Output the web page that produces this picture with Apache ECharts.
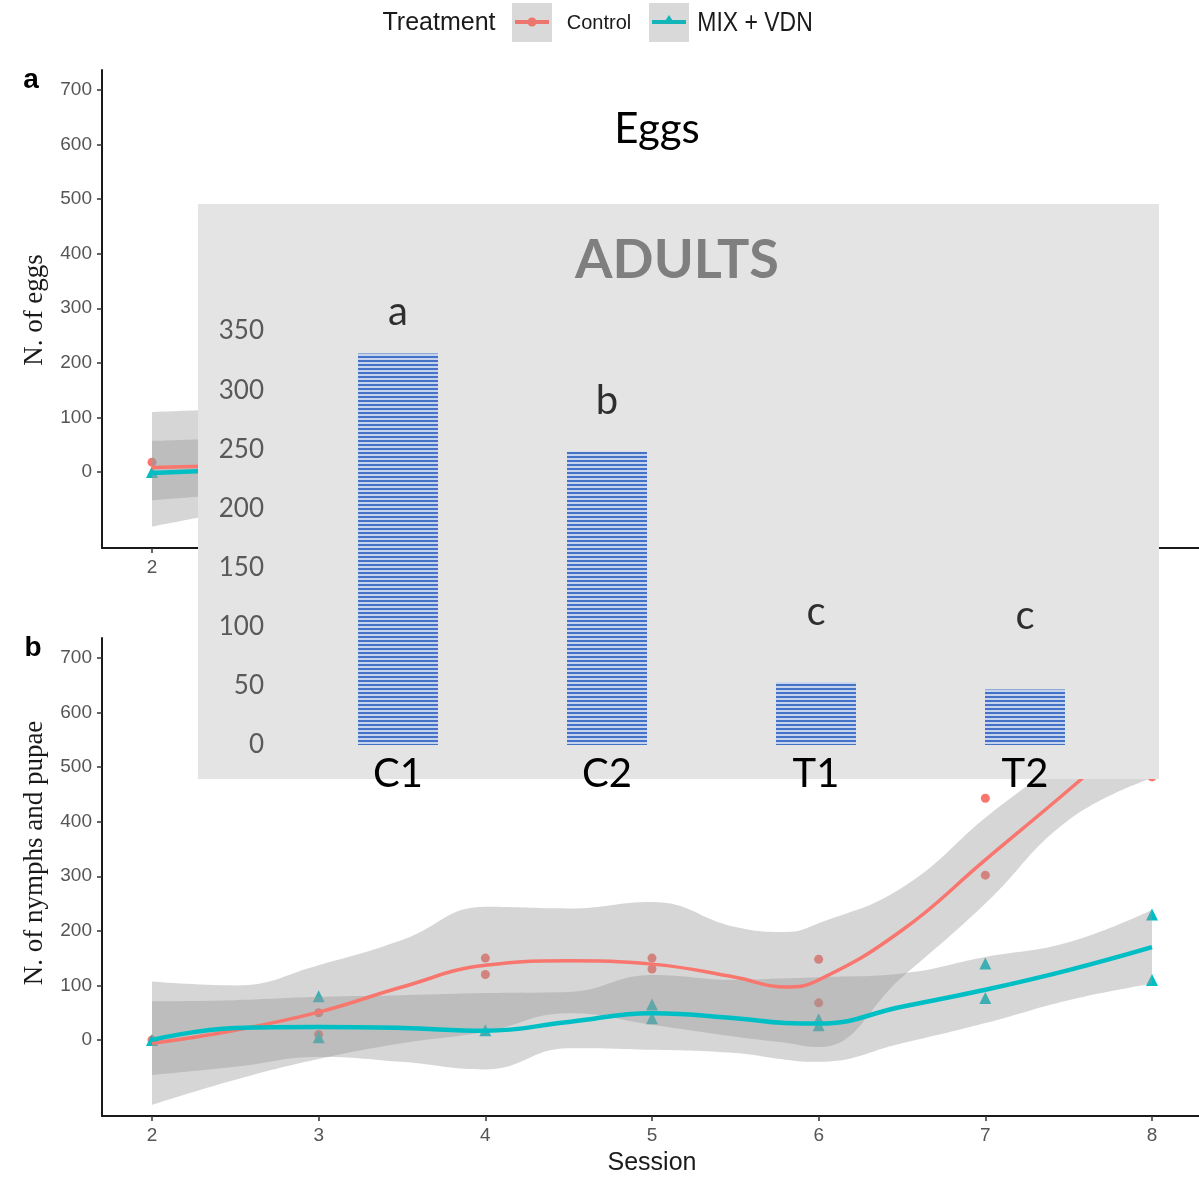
<!DOCTYPE html>
<html>
<head>
<meta charset="utf-8">
<script src="https://cdn.jsdelivr.net/npm/echarts@6/dist/echarts.min.js"></script>
<style>
  html, body { margin: 0; padding: 0; background: #ffffff; }
  #main { position: absolute; left: 0; top: 0; width: 1199px; height: 1178px; }
  #inset { position: absolute; left: 198px; top: 204px; width: 961px; height: 610px; }
</style>
</head>
<body>
<div id="main"></div>
<div id="inset"></div>
<script>
// ---------- axis ticks ----------
const sessionTicks = [2, 3, 4, 5, 6, 7, 8];
const countTicks = [0, 100, 200, 300, 400, 500, 600, 700];

// ---------- panel a: eggs (session 2 visible) ----------
const eggFitSessions = [2, 2.5];
const eggControlFit = [8, 12];
const eggControlLower = [-100, -70];
const eggControlUpper = [110, 116];
const eggMixFit = [-2, 4];
const eggMixLower = [-52, -40];
const eggMixUpper = [57, 62];
const eggControlPtSession = [2];
const eggControlPtValue = [18];
const eggMixPtSession = [2];
const eggMixPtValue = [0];

// ---------- panel b: nymphs and pupae ----------
const fitSessions = [2, 2.5, 3, 3.5, 4, 4.5, 5, 5.5, 5.8, 6, 6.5, 7, 7.5, 8];
const controlFit   = [-6, 18, 51, 97, 137, 145, 139, 115, 97, 110, 201, 330, 458, 590];
const controlLower = [-119, -73, -35, -6, 15, 49, 28, 6, -5, -13, 115, 250, 403, 480];
const controlUpper = [107, 100, 137, 183, 244, 241, 253, 207, 198, 214, 279, 407, 530, 700];
const mixFit   = [0, 22, 24, 22, 17, 33, 49, 40, 31, 30, 61, 92, 128, 170];
const mixLower = [-64, -49, -31, -40, -54, -15, -18, -24, -36, -40, -6, 31, 73, 103];
const mixUpper = [71, 73, 79, 82, 86, 88, 119, 110, 113, 115, 122, 152, 179, 238];

const controlPtSession = [2, 3, 3, 4, 4, 5, 5, 6, 6, 7, 7, 8];
const controlPtValue   = [0, 50, 10, 150, 120, 150, 130, 148, 68, 443, 302, 482];
const mixPtSession = [2, 3, 3, 4, 5, 5, 6, 6, 7, 7, 8, 8];
const mixPtValue   = [0, 80, 5, 18, 65, 40, 38, 27, 140, 77, 230, 110];

// ---------- inset: adults ----------
const adultGroups = ['C1', 'C2', 'T1', 'T2'];
const adultCounts = [331, 248, 53, 47];
const sigLetters = ['a', 'b', 'c', 'c'];
const sigLetterHeight = [366, 291, 112, 109];
const adultTicks = [0, 50, 100, 150, 200, 250, 300, 350];

// ---------- colours ----------
const RED = '#F8766D';
const TEAL = '#00BFC4';
const RIBBON = 'rgba(153,153,153,0.4)';
const Y_MIN = -139.3, Y_MAX = 736.6;
const X_MIN = 1.7, X_MAX = 8.282;
const SMOOTH = 0.45;

// rows are [count, session] so that the count column is the one that gets stacked
function rows(xs, ys) { return xs.map((x, i) => [ys[i], x]); }

function ribbon(g, xs, lo, hi, id) {
  const common = {
    type: 'line', xAxisIndex: g, yAxisIndex: g, stack: id, stackStrategy: 'all',
    encode: { x: 1, y: 0 },
    smooth: SMOOTH, symbol: 'none', silent: true,
    lineStyle: { opacity: 0 }
  };
  return [
    Object.assign({}, common, { data: rows(xs, lo) }),
    Object.assign({}, common, {
      data: rows(xs, hi.map((v, i) => v - lo[i])),
      areaStyle: { color: RIBBON, opacity: 1 }
    })
  ];
}

function fitLine(g, xs, ys, color, width) {
  return {
    type: 'line', xAxisIndex: g, yAxisIndex: g, data: rows(xs, ys),
    encode: { x: 1, y: 0 },
    smooth: SMOOTH, symbol: 'none', silent: true,
    lineStyle: { color: color, width: width }
  };
}

function points(g, xs, ys, symbol, size, color) {
  return {
    type: 'scatter', xAxisIndex: g, yAxisIndex: g, data: rows(xs, ys),
    encode: { x: 1, y: 0 },
    symbol: symbol, symbolSize: size, itemStyle: { color: color, opacity: 1 }, silent: true
  };
}

function sessionAxis(g) {
  return {
    type: 'value', gridIndex: g, min: X_MIN, max: X_MAX,
    axisLine: { show: true, onZero: false, lineStyle: { color: '#1a1a1a', width: 2 } },
    axisTick: { show: true, length: 5, customValues: sessionTicks, lineStyle: { color: '#333', width: 1.5 } },
    axisLabel: { customValues: sessionTicks, color: '#555', fontSize: 19, fontFamily: 'Liberation Sans', margin: 10 },
    splitLine: { show: false }
  };
}

function countAxis(g) {
  return {
    type: 'value', gridIndex: g, min: Y_MIN, max: Y_MAX,
    axisLine: { show: true, onZero: false, lineStyle: { color: '#1a1a1a', width: 2 } },
    axisTick: { show: true, length: 5, customValues: countTicks, lineStyle: { color: '#333', width: 1.5 } },
    axisLabel: { customValues: countTicks, color: '#555', fontSize: 19, fontFamily: 'Liberation Sans', margin: 10 },
    splitLine: { show: false }
  };
}

const main = echarts.init(document.getElementById('main'), null, { renderer: 'canvas' });

main.setOption({
  animation: false,
  backgroundColor: '#ffffff',
  grid: [
    { left: 102, top: 70, width: 1097, height: 478 },
    { left: 102, top: 638, width: 1097, height: 478 }
  ],
  xAxis: [sessionAxis(0), sessionAxis(1)],
  yAxis: [countAxis(0), countAxis(1)],
  series: [
    // panel a
    points(0, eggControlPtSession, eggControlPtValue, 'circle', 9, RED),
    points(0, eggMixPtSession, eggMixPtValue, 'triangle', 12, TEAL),
    ...ribbon(0, eggFitSessions, eggControlLower, eggControlUpper, 'eggControl'),
    fitLine(0, eggFitSessions, eggControlFit, RED, 3.5),
    ...ribbon(0, eggFitSessions, eggMixLower, eggMixUpper, 'eggMix'),
    fitLine(0, eggFitSessions, eggMixFit, TEAL, 4.5),
    // panel b
    points(1, controlPtSession, controlPtValue, 'circle', 9, RED),
    points(1, mixPtSession, mixPtValue, 'triangle', 12, TEAL),
    ...ribbon(1, fitSessions, controlLower, controlUpper, 'nymControl'),
    fitLine(1, fitSessions, controlFit, RED, 3.5),
    ...ribbon(1, fitSessions, mixLower, mixUpper, 'nymMix'),
    fitLine(1, fitSessions, mixFit, TEAL, 4.5)
  ],
  graphic: [
    // legend
    { type: 'text', x: 439, y: 23, style: { text: 'Treatment', font: '25px "Liberation Sans"', fill: '#1a1a1a', align: 'center', verticalAlign: 'middle' } },
    { type: 'rect', shape: { x: 512, y: 3, width: 40, height: 39 }, style: { fill: '#d9d9d9' } },
    { type: 'line', shape: { x1: 515, y1: 22, x2: 549, y2: 22 }, style: { stroke: '#ec766d', lineWidth: 4 } },
    { type: 'circle', shape: { cx: 532, cy: 22, r: 4.5 }, style: { fill: '#ec766d' } },
    { type: 'text', x: 599, y: 23, style: { text: 'Control', font: '20px "Liberation Sans"', fill: '#1a1a1a', align: 'center', verticalAlign: 'middle' } },
    { type: 'rect', shape: { x: 649, y: 3, width: 40, height: 39 }, style: { fill: '#d9d9d9' } },
    { type: 'line', shape: { x1: 652, y1: 22, x2: 686, y2: 22 }, style: { stroke: '#13b5b8', lineWidth: 4 } },
    { type: 'polygon', shape: { points: [[669, 15], [675, 24], [663, 24]] }, style: { fill: '#13b5b8' } },
    { type: 'text', x: 755, y: 23, scaleX: 0.82, originX: 0, style: { text: 'MIX + VDN', font: '28px "Liberation Sans"', fill: '#1a1a1a', align: 'center', verticalAlign: 'middle' } },
    // panel letters
    { type: 'text', x: 31, y: 80, style: { text: 'a', font: 'bold 28px "Liberation Sans"', fill: '#000', align: 'center', verticalAlign: 'middle' } },
    { type: 'text', x: 33, y: 648, style: { text: 'b', font: 'bold 28px "Liberation Sans"', fill: '#000', align: 'center', verticalAlign: 'middle' } },
    // axis titles
    { type: 'text', x: 35, y: 310, rotation: Math.PI / 2, style: { text: 'N. of eggs', font: '27px "Liberation Serif"', fill: '#1a1a1a', align: 'center', verticalAlign: 'middle' } },
    { type: 'text', x: 35, y: 853, rotation: Math.PI / 2, style: { text: 'N. of nymphs and pupae', font: '27px "Liberation Serif"', fill: '#1a1a1a', align: 'center', verticalAlign: 'middle' } },
    { type: 'text', x: 652, y: 1163, style: { text: 'Session', font: '25px "Liberation Sans"', fill: '#1a1a1a', align: 'center', verticalAlign: 'middle' } },
    // panel a heading
    { type: 'text', x: 657, y: 129, style: { text: 'Eggs', font: '42px Lato', fill: '#000', align: 'center', verticalAlign: 'middle' } }
  ]
});

// ---------- inset bar chart ----------
const stripe = document.createElement('canvas');
stripe.width = 8; stripe.height = 4;
(function () {
  const c = stripe.getContext('2d');
  c.fillStyle = '#c6d3ee'; c.fillRect(0, 0, 8, 4);
  c.fillStyle = '#4472c4'; c.fillRect(0, 0, 8, 2);
})();

const inset = echarts.init(document.getElementById('inset'), null, { renderer: 'canvas' });
inset.setOption({
  animation: false,
  graphic: [
    { type: 'rect', z: -10, silent: true, shape: { x: 0, y: 0, width: 961, height: 575 }, style: { fill: '#e4e4e4' } },
    { type: 'text', x: 479, y: 57, style: { text: 'ADULTS', font: 'bold 54px Lato', fill: '#7f7f7f', align: 'center', verticalAlign: 'middle' } }
  ],
  grid: { left: 95.5, top: 127, width: 836, height: 414 },
  xAxis: {
    type: 'category', data: adultGroups,
    axisLine: { show: false }, axisTick: { show: false },
    axisLabel: { fontFamily: 'Lato', fontSize: 40, color: '#000', margin: 29, verticalAlign: 'middle' }
  },
  yAxis: {
    type: 'value', min: 0, max: 350, interval: 50,
    axisLine: { show: false }, axisTick: { show: false }, splitLine: { show: false },
    axisLabel: { customValues: adultTicks, fontFamily: 'Lato', fontSize: 26, color: '#595959', margin: 29.5 }
  },
  series: [
    {
      type: 'bar', data: adultCounts, barWidth: 80, silent: true,
      itemStyle: { color: { image: stripe, repeat: 'repeat' } }
    },
    {
      type: 'scatter', data: sigLetterHeight, symbolSize: 1, silent: true, clip: false,
      itemStyle: { color: 'rgba(0,0,0,0)' },
      label: {
        show: true, position: 'inside',
        formatter: p => sigLetters[p.dataIndex],
        fontFamily: 'Lato', fontSize: 40, color: '#000'
      }
    }
  ]
});
</script>
</body>
</html>
